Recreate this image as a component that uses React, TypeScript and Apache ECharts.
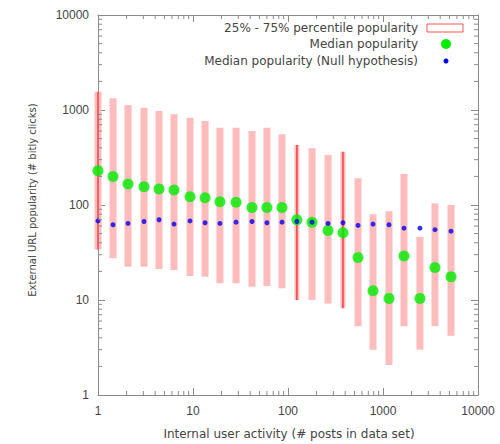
import React, { useEffect, useRef } from "react";
import * as echarts from "echarts";

// Internal user activity (bin centres, # posts)
const activity = [1, 1.44, 2.07, 3.05, 4.39, 6.31, 9.3, 13.4, 19.2, 28.4, 41.8, 60, 86.5, 124, 179, 264, 379, 546, 785, 1156, 1663, 2448, 3524, 5200];
// 25% and 75% percentile popularity
const p25 = [34, 27.5, 22.4, 22.4, 21.2, 20.7, 17.9, 17.6, 15, 15, 13.8, 14, 13.3, 10, 10, 9.2, 8.2, 5.3, 3, 2.07, 5.3, 3, 5.3, 4.2];
const p75 = [1560, 1330, 1130, 1057, 975, 901, 830, 766, 651, 651, 601, 651, 555, 428, 395, 336, 364, 191, 80, 86, 212, 46, 104, 100];
// Median popularity
const median = [230, 199, 166, 156, 147, 144, 122, 119, 108, 107, 94, 94, 94, 70, 66, 54, 51, 28, 12.5, 10.4, 29, 10.4, 22, 17.6];
// Median popularity (null hypothesis)
const medianNull = [68, 62, 64, 67, 70, 63, 68, 65, 64, 66, 67, 65, 66, 67, 66, 64, 65, 61, 63, 62, 57, 57, 55, 53];

const axisTicks = [1, 10, 100, 1000, 10000];
const minorMultipliers = [2, 3, 4, 5, 6, 7, 8, 9];
const legendLabels = ["25% - 75% percentile popularity", "Median popularity", "Median popularity (Null hypothesis)"];
const xTitle = "Internal user activity (# posts in data set)";
const yTitle = "External URL popularity (# bitly clicks)";

// bars that render as a dark thin stroke in the reference
const darkBars = [0, 13, 16];

const FONT = "Liberation Sans, Arial, sans-serif";
const TFONT = "DejaVu Sans, sans-serif";

export default function App() {
  const ref = useRef<HTMLDivElement>(null);
  useEffect(() => {
    if (!ref.current) return;
    const chart = echarts.init(ref.current, null, { renderer: "svg" });
    const minorVals: number[] = [];
    for (let d = 0; d < axisTicks.length - 1; d++) {
      for (const m of minorMultipliers) minorVals.push(axisTicks[d] * m);
    }
    const lbl = (v: number) => {
      const t = axisTicks.find((a) => Math.abs(a - v) / a < 1e-6);
      return t !== undefined ? String(t) : "";
    };
    const axisCommon = {
      type: "log" as const,
      logBase: 10,
      min: 1,
      max: 10000,
      splitLine: { show: false },
      axisLine: { show: true, lineStyle: { color: "#8a8a8a", width: 1 } },
      axisTick: { show: true, inside: true, length: 7, lineStyle: { color: "#8a8a8a" } },
    };
    const option: any = {
      animation: false,
      backgroundColor: "#ffffff",
      grid: { left: 98, right: 22, top: 15, bottom: 49, containLabel: false },
      xAxis: [
        {
          ...axisCommon,
          position: "bottom",
          axisLabel: { show: true, formatter: lbl, color: "#444", fontSize: 12, fontFamily: FONT, margin: 10 },
        },
        { ...axisCommon, position: "top", axisLabel: { show: false } },
      ],
      yAxis: [
        {
          ...axisCommon,
          position: "left",
          axisLabel: { show: true, formatter: lbl, color: "#444", fontSize: 12, fontFamily: FONT, margin: 9 },
        },
        { ...axisCommon, position: "right", axisLabel: { show: false } },
      ],
      graphic: [
        {
          type: "text",
          x: 32,
          y: 200,
          rotation: Math.PI / 2,
          style: { text: yTitle, fill: "#444", font: `10px ${TFONT}`, textAlign: "center", textVerticalAlign: "middle" },
        },
        {
          type: "text",
          x: 289,
          y: 434,
          style: { text: xTitle, fill: "#444", font: `12px ${TFONT}`, textAlign: "center", textVerticalAlign: "middle" },
        },
        {
          type: "text",
          x: 418,
          y: 28,
          style: { text: legendLabels[0], fill: "#444", font: `12px ${TFONT}`, textAlign: "right", textVerticalAlign: "middle" },
        },
        { type: "rect", shape: { x: 427, y: 24, width: 36, height: 8 }, style: { fill: "#fff", stroke: "#ff5555", lineWidth: 1 } },
        {
          type: "text",
          x: 418,
          y: 44,
          style: { text: legendLabels[1], fill: "#444", font: `12px ${TFONT}`, textAlign: "right", textVerticalAlign: "middle" },
        },
        { type: "circle", shape: { cx: 446, cy: 44, r: 5 }, style: { fill: "#00ee00" } },
        {
          type: "text",
          x: 418,
          y: 61,
          style: { text: legendLabels[2], fill: "#444", font: `12px ${TFONT}`, textAlign: "right", textVerticalAlign: "middle" },
        },
        { type: "circle", shape: { cx: 446, cy: 61, r: 2.5 }, style: { fill: "#0000ee" } },
      ],
      series: [
        {
          type: "custom",
          name: legendLabels[0],
          clip: false,
          z: 1,
          data: activity.map((x, i) => [x, p25[i], p75[i], i]),
          renderItem: (params: any, api: any) => {
            const x = api.value(0);
            const lo = api.coord([x, api.value(1)]);
            const hi = api.coord([x, api.value(2)]);
            const idx = api.value(3);
            const dark = darkBars.indexOf(idx) >= 0;
            const thin = dark && idx !== 0;
            const children: any[] = [
              {
                type: "rect",
                shape: { x: lo[0] - (thin ? 2.5 : 3.5), y: hi[1], width: thin ? 5 : 7, height: lo[1] - hi[1] },
                style: { fill: "#ffbcbc" },
              },
            ];
            if (dark) {
              children.push({
                type: "line",
                shape: { x1: lo[0], y1: hi[1], x2: lo[0], y2: lo[1] },
                style: { stroke: "#ee4444", lineWidth: 1.5 },
              });
            }
            return { type: "group", children };
          },
        },
        {
          type: "scatter",
          name: legendLabels[1],
          z: 3,
          symbol: "circle",
          symbolSize: 11,
          itemStyle: { color: "#00ee00" },
          data: activity.map((x, i) => [x, median[i]]),
        },
        {
          type: "scatter",
          name: legendLabels[2],
          z: 4,
          symbol: "circle",
          symbolSize: 5,
          itemStyle: { color: "#0000ee" },
          data: activity.map((x, i) => [x, medianNull[i]]),
        },
        {
          type: "custom",
          clip: false,
          z: 5,
          silent: true,
          data: minorVals.map((v) => [v, v]),
          renderItem: (params: any, api: any) => {
            const v = api.value(0);
            const cs = params.coordSys;
            const px = api.coord([v, 1])[0];
            const py = api.coord([1, v])[1];
            const L = 4;
            const st = { stroke: "#8a8a8a", lineWidth: 1 };
            return {
              type: "group",
              children: [
                { type: "line", shape: { x1: px, y1: cs.y + cs.height, x2: px, y2: cs.y + cs.height - L }, style: st },
                { type: "line", shape: { x1: px, y1: cs.y, x2: px, y2: cs.y + L }, style: st },
                { type: "line", shape: { x1: cs.x, y1: py, x2: cs.x + L, y2: py }, style: st },
                { type: "line", shape: { x1: cs.x + cs.width, y1: py, x2: cs.x + cs.width - L, y2: py }, style: st },
              ],
            };
          },
        },
      ],
    };
    chart.setOption(option);
    return () => chart.dispose();
  }, []);
  return <div ref={ref} style={{ position: "absolute", left: 0, top: 0, width: 500, height: 444 }} />;
}
